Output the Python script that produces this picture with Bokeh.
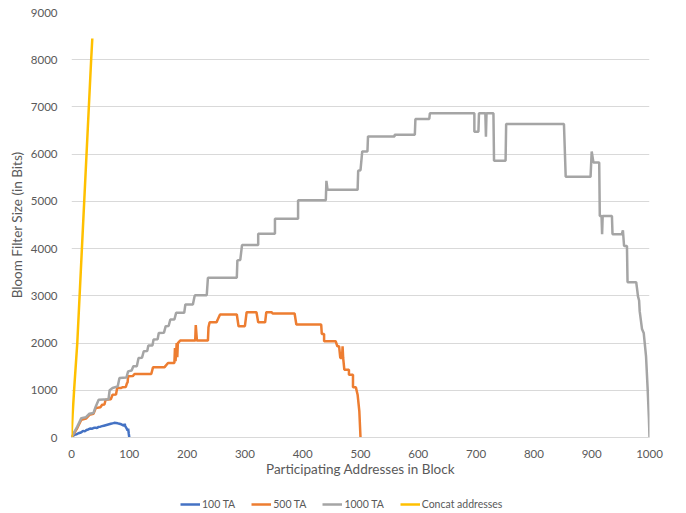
from bokeh.plotting import figure
from bokeh.layouts import column
from bokeh.models import Range1d, FixedTicker, Legend, LegendItem
from bokeh.embed import file_html
from bokeh.resources import INLINE

# ---- data ----
ta100_x = [0, 3, 6, 9, 12, 15, 18, 20, 23, 26, 29, 32, 35, 38, 41, 44, 47, 50, 53, 56, 59, 62, 65, 68,
           71, 74, 77, 80, 83, 86, 89, 91, 92, 93, 95, 97, 98, 99, 100]
ta100_y = [0, 40, 60, 70, 90, 100, 120, 140, 130, 160, 170, 190, 185, 200, 210, 200, 225, 230, 240, 250,
           260, 270, 280, 290, 300, 310, 305, 300, 290, 280, 260, 250, 290, 240, 200, 150, 190, 90, 0]

ta500_x = [0, 5, 10, 17, 25, 31, 38, 42, 50, 53, 57, 59, 68, 71, 77, 79, 86, 88, 94, 96, 97, 98, 106, 109,
           138, 141, 161, 167, 178, 179, 180, 182, 183, 184, 188, 214, 215, 217, 236, 237, 239, 251, 253,
           257, 286, 289, 300, 303, 320, 323, 335, 337, 346, 348, 386, 389, 432, 433, 437, 437, 457, 460,
           463, 465, 468, 469, 470, 472, 480, 480, 487, 487, 492, 495, 498, 500]
ta500_y = [0, 100, 200, 375, 400, 481, 500, 622, 640, 693, 700, 800, 810, 906, 910, 1047, 1050, 1062, 1070,
           1153, 1160, 1295, 1300, 1344, 1344, 1486, 1490, 1578, 1578, 1896, 1614, 2000, 1700, 2000, 2052,
           2052, 2380, 2052, 2052, 2335, 2440, 2440, 2500, 2605, 2605, 2357, 2357, 2654, 2654, 2440, 2440,
           2654, 2654, 2626, 2626, 2392, 2392, 2194, 2194, 2038, 2038, 1932, 1932, 1684, 1684, 1932, 1684,
           1437, 1437, 1331, 1331, 1062, 1062, 906, 552, 0]

ta1000_x = [0, 5, 10, 17, 25, 31, 38, 42, 47, 64, 66, 71, 80, 83, 95, 98, 104, 107, 113, 116, 122, 125, 131,
            133, 140, 142, 149, 151, 160, 163, 168, 171, 178, 181, 195, 197, 210, 213, 214, 234, 236, 286,
            287, 292, 295, 323, 323, 352, 352, 392, 392, 440, 441, 443, 495, 496, 500, 503, 512, 513, 559,
            559, 594, 595, 619, 620, 697, 697, 704, 705, 716, 717, 718, 730, 731, 751, 752, 852, 855, 898,
            900, 903, 913, 914, 917, 918, 919, 935, 936, 952, 954, 956, 961, 962, 977, 979, 980, 982, 983,
            987, 990, 994, 997, 999, 1000]
ta1000_y = [0, 120, 230, 410, 430, 503, 520, 658, 800, 810, 1000, 1047, 1083, 1260, 1270, 1400, 1420, 1507,
            1510, 1684, 1690, 1826, 1830, 1947, 1950, 2074, 2080, 2215, 2220, 2357, 2360, 2500, 2500, 2640,
            2640, 2817, 2817, 2994, 3015, 3015, 3382, 3382, 3751, 3760, 4076, 4076, 4316, 4316, 4635, 4635,
            5025, 5025, 5435, 5244, 5244, 5648, 5660, 6057, 6057, 6376, 6376, 6412, 6412, 6745, 6745, 6864,
            6864, 6476, 6476, 6864, 6864, 6370, 6864, 6864, 5860, 5860, 6640, 6640, 5520, 5520, 6057, 5824,
            5824, 4692, 4692, 4304, 4692, 4692, 4304, 4304, 4388, 4055, 4055, 3290, 3290, 3100, 2994, 2900,
            2675, 2300, 2215, 1720, 977, 400, 0]

concat_x = [0, 2, 5, 10, 16, 22, 28, 34, 36]
concat_y = [0, 500, 1100, 2000, 3500, 5000, 6500, 8000, 8450]

series_names = ["100 TA", "500 TA", "1000 TA", "Concat addresses"]
series_colors = ["#4472C4", "#ED7D31", "#A5A5A5", "#FFC000"]

x_ticks = list(range(0, 1001, 100))
y_ticks = list(range(0, 9001, 1000))

FONT = "Lato"
TXT = "#595959"

p = figure(width=669, height=481, output_backend="svg", toolbar_location=None,
           x_range=Range1d(0, 1000), y_range=Range1d(0, 9000),
           min_border_left=71, min_border_right=20, min_border_top=12, min_border_bottom=44)
p.outline_line_color = None
p.background_fill_color = "white"

series = [(ta100_x, ta100_y), (ta500_x, ta500_y), (ta1000_x, ta1000_y), (concat_x, concat_y)]
for (xs, ys), c in zip(series, series_colors):
    p.line(xs, ys, line_color=c, line_width=2.5)

p.xgrid.grid_line_color = None
p.ygrid.grid_line_color = "#d9d9d9"
p.ygrid.ticker = FixedTicker(ticks=y_ticks[1:])

p.xaxis.ticker = FixedTicker(ticks=x_ticks)
p.yaxis.ticker = FixedTicker(ticks=y_ticks)
for ax in (p.xaxis[0], p.yaxis[0]):
    ax.major_tick_line_color = None
    ax.minor_tick_line_color = None
    ax.major_tick_out = 0
    ax.major_tick_in = 0
    ax.minor_tick_out = 0
    ax.minor_tick_in = 0
    ax.major_label_text_font = FONT
    ax.major_label_text_font_size = "11.5px"
    ax.major_label_text_color = TXT
    ax.axis_label_text_font = FONT
    ax.axis_label_text_font_size = "13.5px"
    ax.axis_label_text_font_style = "normal"
    ax.axis_label_text_color = TXT
p.xaxis.axis_line_color = "#d9d9d9"
p.yaxis.axis_line_color = None
p.xaxis.axis_label = "Participating Addresses in Block"
p.yaxis.axis_label = "Bloom Filter Size (in Bits)"
p.xaxis.major_label_standoff = 12
p.yaxis.major_label_standoff = 14
p.xaxis.axis_label_standoff = 0
p.yaxis.axis_label_standoff = 3

# legend strip below the chart
q = figure(width=669, height=29, output_backend="svg", toolbar_location=None,
           x_range=Range1d(0, 1), y_range=Range1d(0, 1), min_border=0)
q.outline_line_color = None
q.axis.visible = False
q.grid.visible = False
items = []
for name, c in zip(series_names, series_colors):
    r = q.line([0], [0], line_color=c, line_width=2.5)
    items.append(LegendItem(label=name, renderers=[r]))
lg = Legend(items=items, orientation="horizontal", location=(109, 0))
lg.background_fill_alpha = 0
lg.border_line_color = None
lg.label_text_font = FONT
lg.label_text_font_size = "10.5px"
lg.label_text_color = TXT
lg.glyph_width = 20
lg.glyph_height = 10
lg.label_standoff = 2
lg.spacing = 16
lg.padding = 0
lg.margin = 0
lg.label_height = 12
q.add_layout(lg)

layout = column(p, q, spacing=0)
open("out.html", "w").write(file_html(layout, INLINE))
